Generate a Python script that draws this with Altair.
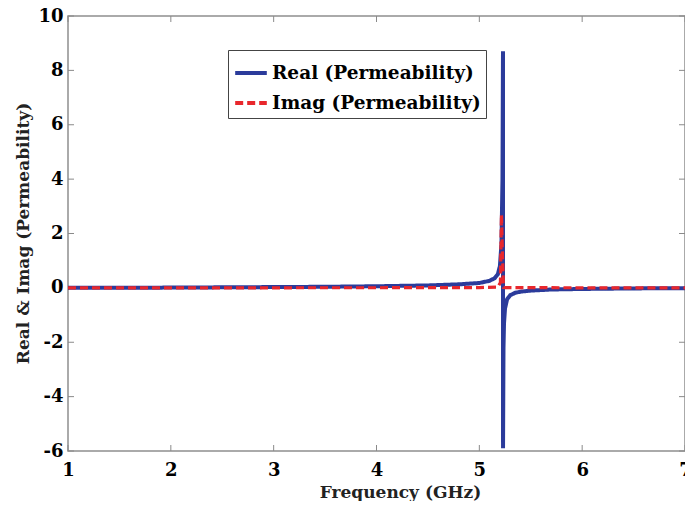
import altair as alt
import pandas as pd

# ---- data ----
real_freq = [1.0, 2.0, 2.5, 3.0, 3.5, 4.0, 4.5, 4.8, 5.0, 5.1, 5.15, 5.18, 5.2, 5.215,
             5.225, 5.23, 5.2305, 5.235, 5.24, 5.25, 5.27, 5.3, 5.35, 5.4, 5.5, 5.7,
             6.0, 6.5, 7.0]
real_vals = [0.0, 0.01, 0.02, 0.03, 0.04, 0.06, 0.09, 0.13, 0.18, 0.26, 0.36, 0.5, 0.8, 1.6,
             4.0, 8.7, -5.9, -2.2, -1.3, -0.75, -0.42, -0.27, -0.18, -0.14, -0.1, -0.06,
             -0.04, -0.02, -0.01]
imag_freq = [1.0, 4.0, 5.0, 5.18, 5.205, 5.215, 5.225, 5.235, 5.25, 6.0, 7.0]
imag_vals = [0.0, 0.005, 0.01, 0.03, 0.2, 2.7, 1.2, 0.02, 0.01, 0.003, 0.0]

series_names = ["Real (Permeability)", "Imag (Permeability)"]
x_ticks = [1, 2, 3, 4, 5, 6, 7]
y_ticks = [-6, -4, -2, 0, 2, 4, 6, 8, 10]

BLUE = "#2b3b9b"
RED = "#e8272c"
FONT = "DejaVu Serif"
TICK = "#8a8a8a"
W, H = 617, 435

real_df = pd.DataFrame({"freq": real_freq, "value": real_vals, "series": series_names[0]})
imag_df = pd.DataFrame({"freq": imag_freq, "value": imag_vals, "series": series_names[1]})
xt_df = pd.DataFrame({"freq": x_ticks})
yt_df = pd.DataFrame({"value": y_ticks})

xscale = alt.Scale(domain=[1, 7], nice=False, zero=False)
yscale = alt.Scale(domain=[-6, 10], nice=False, zero=False)

xenc = alt.X("freq:Q", scale=xscale,
             axis=alt.Axis(values=x_ticks, title="Frequency (GHz)", titleX=332, titleY=46,
                           titleBaseline="alphabetic", labelPadding=10, labelFlush=False,
                           labelExpr="'' + datum.value"))
yenc = alt.Y("value:Q", scale=yscale,
             axis=alt.Axis(values=y_ticks, title="Real & Imag (Permeability)", titleX=-40,
                           titleY=217, titleBaseline="alphabetic", labelPadding=5,
                           labelFlush=False, labelExpr="'' + datum.value"))

legend = alt.Legend(title=None, orient="none", legendX=160, legendY=34, direction="vertical",
                    symbolType="stroke", symbolSize=1000, symbolStrokeWidth=4,
                    labelFont=FONT, labelFontSize=18.5, labelFontWeight="bold",
                    labelColor="black", labelLimit=600, strokeColor="#444444",
                    fillColor="white", padding=5, rowPadding=2, labelOffset=3)

color = alt.Color("series:N", scale=alt.Scale(domain=series_names, range=[BLUE, RED]),
                  legend=legend)
dash = alt.StrokeDash("series:N",
                      scale=alt.Scale(domain=series_names, range=[[1, 0], [8, 4]]),
                      legend=legend)

real_line = alt.Chart(real_df).mark_line(strokeWidth=4, clip=True).encode(
    x=xenc, y=yenc, color=color, strokeDash=dash)
imag_line = alt.Chart(imag_df).mark_line(strokeWidth=3.2, clip=True).encode(
    x=xenc, y=yenc, color=color, strokeDash=dash)

xt_bottom = alt.Chart(xt_df).mark_rule(color=TICK, strokeWidth=1).encode(
    x=xenc, y=alt.value(H), y2=alt.value(H - 6))
xt_top = alt.Chart(xt_df).mark_rule(color=TICK, strokeWidth=1).encode(
    x=xenc, y=alt.value(0), y2=alt.value(6))
yt_left = alt.Chart(yt_df).mark_rule(color=TICK, strokeWidth=1).encode(
    y=yenc, x=alt.value(0), x2=alt.value(6))
yt_right = alt.Chart(yt_df).mark_rule(color=TICK, strokeWidth=1).encode(
    y=yenc, x=alt.value(W), x2=alt.value(W - 6))

chart = alt.layer(xt_bottom, xt_top, yt_left, yt_right, real_line, imag_line).properties(
    width=W, height=H,
    autosize=alt.AutoSizeParams(type="none"),
    padding={"left": 60, "top": 8, "right": 0, "bottom": 50},
).configure_view(stroke="#8f8f8f", strokeWidth=1.5).configure_axis(
    grid=False, domain=False, ticks=False,
    labelFont=FONT, labelFontSize=18, labelFontWeight="bold", labelColor="black",
    titleFont=FONT, titleFontSize=17, titleFontWeight="bold", titleColor="#222222",
    labelOverlap=False,
)

chart.save("out.html", embed_options={"renderer": "svg", "actions": False})
